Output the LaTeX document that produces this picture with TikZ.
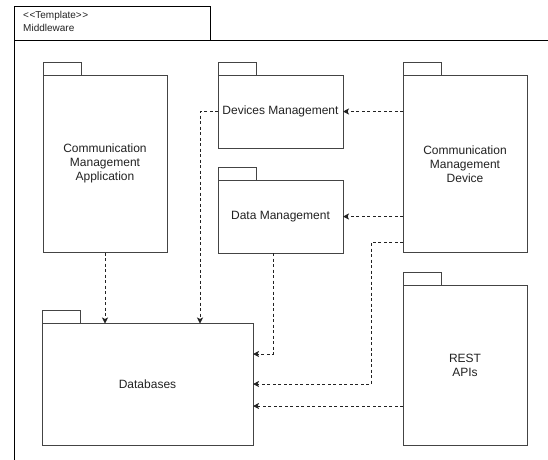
\documentclass[tikz,border=0pt]{standalone}
\usepackage{fontspec}
\setmainfont{Liberation Sans}
\usetikzlibrary{arrows.meta,calc}
\definecolor{txt}{HTML}{222222}
\definecolor{edge}{HTML}{444444}
\tikzset{
  pkg/.style={draw=edge, line width=1pt, fill=white, rectangle, inner sep=0pt, outer sep=0pt,
    align=center, text=txt, font=\fontsize{12}{14}\selectfont},
  pkgtab/.style={draw=edge, line width=1pt, fill=white},
  frameline/.style={draw=black, line width=1pt},
  dep/.style={draw=txt, line width=0.9pt, dash pattern=on 3pt off 2.5pt,
    -{Stealth[length=6pt,width=6pt,inset=1.5pt]}},
  tpltext/.style={text=txt, font=\fontsize{10}{12}\selectfont, anchor=west, inner sep=0pt}
}
\newcommand\pkgbox[6]{%
  \node[pkg, minimum width={(#4-#2)*1pt}, minimum height={(#5-#3)*1pt}] (#1) at ({(#2+#4)/2},{(#3+#5)/2}) {#6};
  \draw[pkgtab] (#1.north west) rectangle ++(38,-13);
}
\begin{document}
\begin{tikzpicture}[x=1pt,y=-1pt]
\useasboundingbox (0,0) rectangle (548,459);
% template frame
\draw[frameline] (14,470) -- (14,6) -- (210,6) -- (210,40.5);
\draw[frameline] (14,40.5) -- (560,40.5);
\node[tpltext] (tpl) at (23,15.5) {{<}\kern0.5pt{<}Template{>}\kern0.5pt{>}};
\node[tpltext] (mw) at (23,28) {Middleware};
% packages
\pkgbox{cma}{43}{75}{167}{252.5}{Communication\\Management\\Application}
\pkgbox{dev}{218}{75}{343}{148}{Devices Management}
\pkgbox{data}{218}{180}{343}{253}{Data Management}
\pkgbox{cmd}{403}{75}{527}{252.5}{Communication\\Management\\Device}
\pkgbox{db}{42}{323.5}{253}{445}{Databases}
\pkgbox{rest}{403}{285}{527}{445}{REST\\APIs}
% junction coordinates
\coordinate (jdev) at (200,0);
\coordinate (jdata) at (273,354);
\coordinate (jcmdA) at (371,242);
\coordinate (jcmdB) at (371,384);
\coordinate (jrest) at (0,406);
% connectors
\draw[dep] (cmd.west |- dev.center) -- (dev.east);
\draw[dep] (cmd.west |- data.center) -- (data.east);
\draw[dep] (cma.south) -- (cma.south |- db.north);
\draw[dep] (dev.west) -| (jdev |- db.north);
\draw[dep] (data.south -| jdata) |- (db.east |- jdata);
\draw[dep] (cmd.west |- jcmdA) -- (jcmdA) -- (jcmdB) -- (db.east |- jcmdB);
\draw[dep] (rest.west |- jrest) -- (db.east |- jrest);
\end{tikzpicture}
\end{document}
